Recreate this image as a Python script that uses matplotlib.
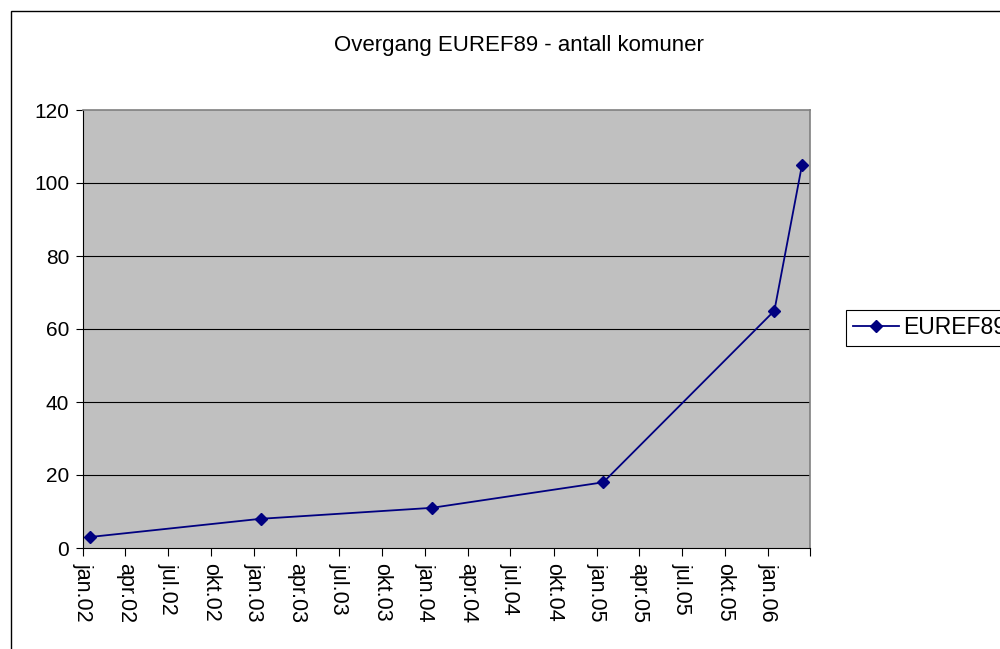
import matplotlib
matplotlib.use("Agg")
import matplotlib.pyplot as plt
from matplotlib.patches import Rectangle
import datetime as dt

plt.rcParams['font.family'] = ['Liberation Sans', 'DejaVu Sans']

# Data
dates = ["2002-01-15", "2003-01-15", "2004-01-15", "2005-01-15", "2006-01-15", "2006-03-15"]
values = [3, 8, 11, 18, 65, 105]
series_name = "EUREF89"
title = "Overgang EUREF89 - antall komuner"
tick_dates = ["2002-01-01", "2002-04-01", "2002-07-01", "2002-10-01",
              "2003-01-01", "2003-04-01", "2003-07-01", "2003-10-01",
              "2004-01-01", "2004-04-01", "2004-07-01", "2004-10-01",
              "2005-01-01", "2005-04-01", "2005-07-01", "2005-10-01",
              "2006-01-01", "2006-04-01"]
tick_labels = ["jan.02", "apr.02", "jul.02", "okt.02",
               "jan.03", "apr.03", "jul.03", "okt.03",
               "jan.04", "apr.04", "jul.04", "okt.04",
               "jan.05", "apr.05", "jul.05", "okt.05",
               "jan.06", ""]
y_ticks = [0, 20, 40, 60, 80, 100, 120]

x = [dt.datetime.strptime(d, "%Y-%m-%d") for d in dates]
xt = [dt.datetime.strptime(d, "%Y-%m-%d") for d in tick_dates]

fig = plt.figure(figsize=(10, 6.49), dpi=100)
fig.patch.set_facecolor('white')

# outer chart border
fig.patches.append(Rectangle((0.0105, -0.5), 1.5, 1.5 - 10.5/649, transform=fig.transFigure,
                             fill=False, edgecolor='black', linewidth=1.0, zorder=0))

ax = fig.add_axes([0.083, 1 - 548/649, 0.727, (548 - 110)/649])
ax.set_facecolor('#C0C0C0')

for yv in y_ticks[1:-1]:
    ax.axhline(yv, color='black', linewidth=0.8, zorder=1)

line, = ax.plot(x, values, color='#000080', linewidth=1.3, marker='D', markersize=6,
                markerfacecolor='#000080', markeredgecolor='#000080', zorder=3, label=series_name)

ax.set_xlim(xt[0], xt[-1])
ax.set_ylim(0, 120)
ax.set_yticks(y_ticks)
ax.set_yticklabels([str(v) for v in y_ticks], fontsize=15)
ax.set_xticks(xt)
ax.set_xticklabels(tick_labels, rotation=-90, fontsize=15.5, va='top', ha='center')
ax.tick_params(axis='x', direction='out', length=6, width=0.8, color='black', pad=5)
ax.tick_params(axis='y', direction='out', length=5, width=0.8, color='black', pad=5)

for s in ['left', 'bottom']:
    ax.spines[s].set_color('black')
    ax.spines[s].set_linewidth(0.8)
for s in ['top', 'right']:
    ax.spines[s].set_color('#808080')
    ax.spines[s].set_linewidth(1.2)

fig.text(0.519, 1 - 45/649, title, ha='center', va='center', fontsize=16)

leg = fig.legend(handles=[line], labels=[series_name], loc='center left',
                 bbox_to_anchor=(0.846, 1 - 328/649), fontsize=16.5, frameon=True,
                 fancybox=False, edgecolor='black', framealpha=1, borderpad=0.3,
                 handlelength=2.0, handletextpad=0.2, borderaxespad=0)
leg.get_frame().set_linewidth(0.8)

fig.savefig("out.png", dpi=100)
